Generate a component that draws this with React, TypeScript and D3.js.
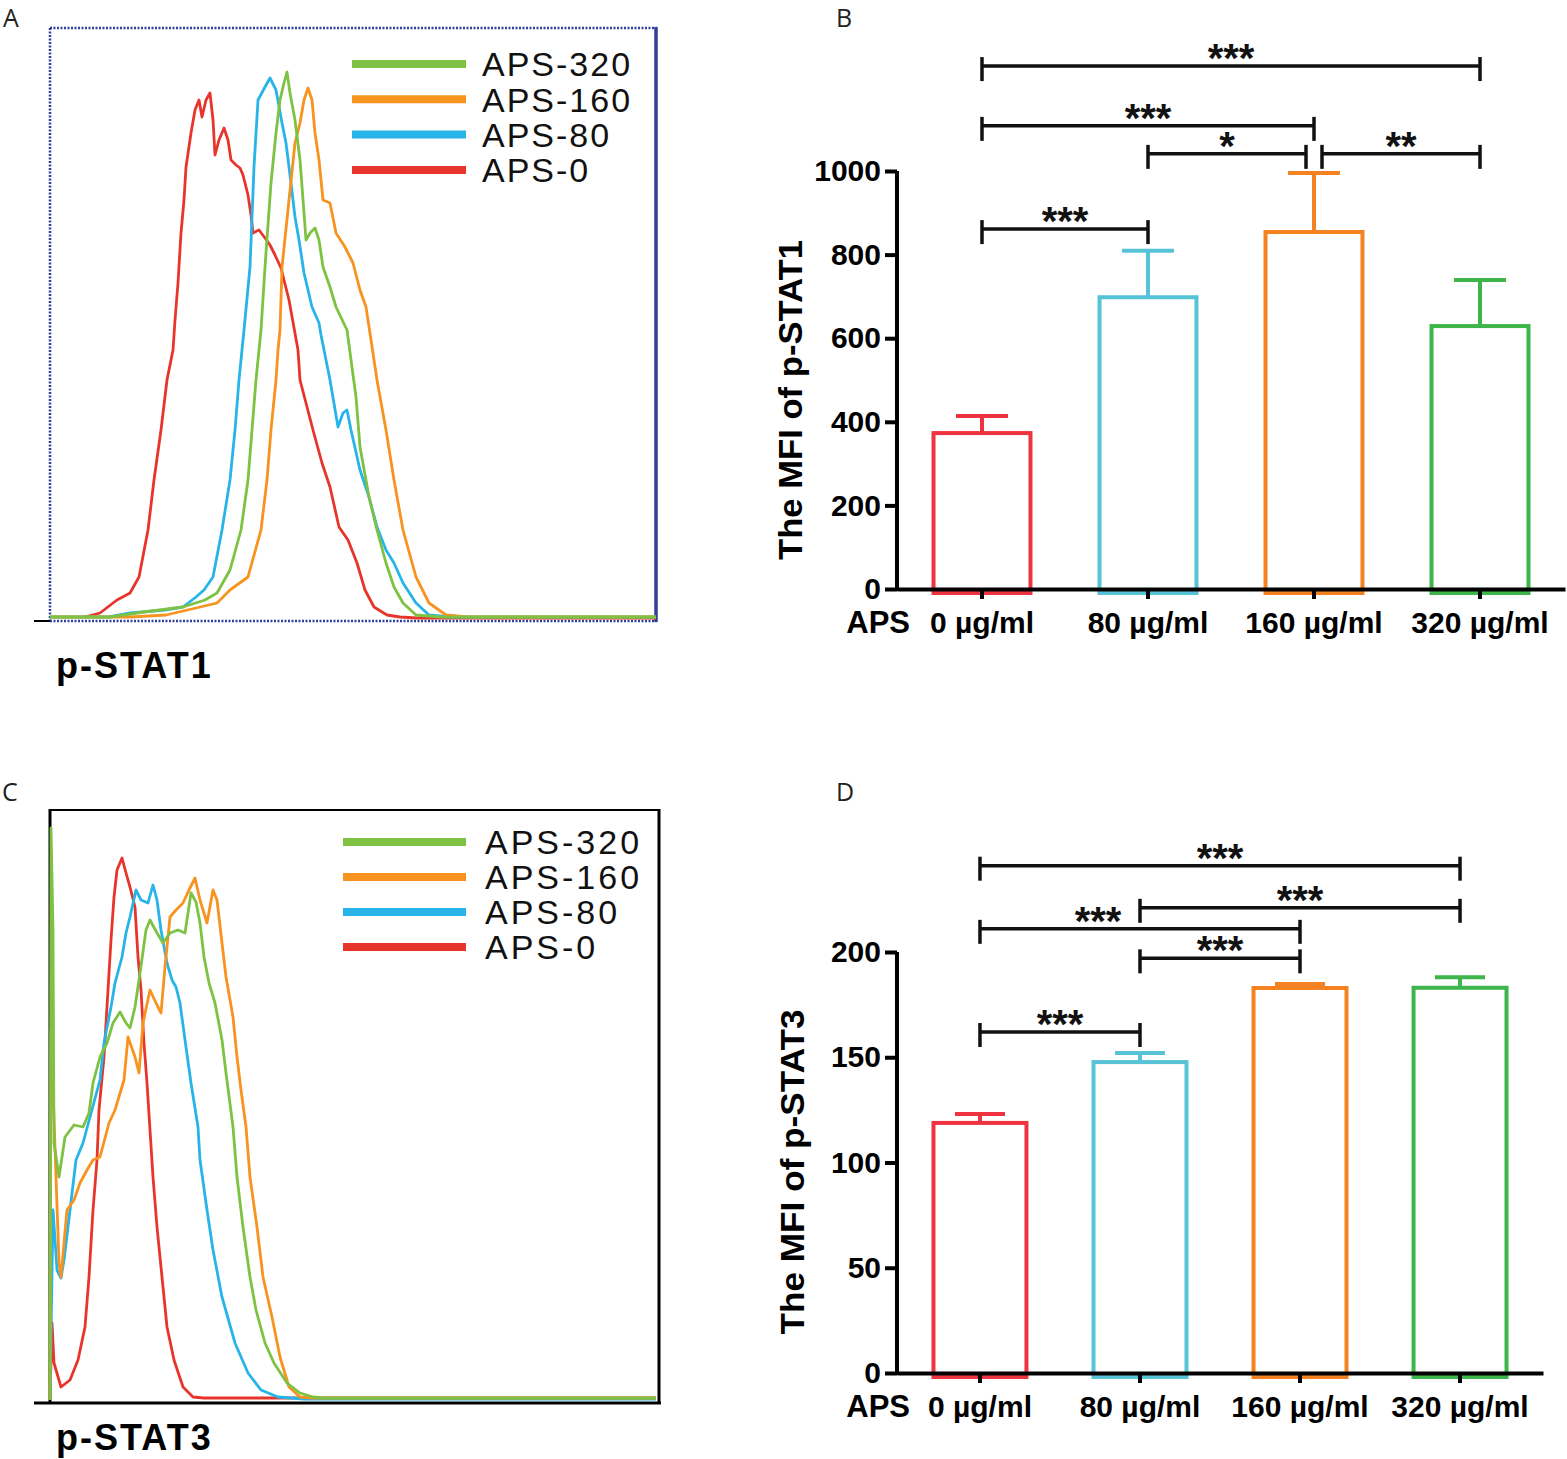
import { useEffect, useRef } from 'react';
import * as d3 from 'd3';

// ---- bar charts (B, D) ----
const groups = ['0 µg/ml', '80 µg/ml', '160 µg/ml', '320 µg/ml'];
const barColors = ['#ef3340', '#56c4d6', '#f58220', '#3db54a'];

const stat1Mean = [373, 698, 854, 629];
const stat1Sem = [41, 111, 141, 110];
const stat1Ticks = [0, 200, 400, 600, 800, 1000];
// [from group, to group, label, bracket height]
const stat1Sig: [number, number, string, number][] = [
  [0, 3, '***', 1251],
  [0, 2, '***', 1108],
  [1, 2, '*', 1041],
  [2, 3, '**', 1041],
  [0, 1, '***', 861],
];

const stat3Mean = [118.8, 147.7, 182.9, 183];
const stat3Sem = [4.2, 4.3, 1.9, 5];
const stat3Ticks = [0, 50, 100, 150, 200];
const stat3Sig: [number, number, string, number][] = [
  [0, 3, '***', 241],
  [1, 3, '***', 221],
  [0, 2, '***', 211],
  [1, 2, '***', 197],
  [0, 1, '***', 162],
];

// ---- flow histograms (A, C) ----
const legendLabels = ['APS-320', 'APS-160', 'APS-80', 'APS-0'];
const legendColors = ['#7dc242', '#f7931e', '#27b4e9', '#e8352b'];
// drawing order: APS-0, APS-80, APS-160, APS-320
const drawColors = ['#e8352b', '#27b4e9', '#f7931e', '#7dc242'];

// [channel, events]
const stat1Aps0 = [[35,3],[50,7],[67,20],[80,27],[89,43],[98,90],[104,140],[111,190],[117,240],[123,270],[125,300],[128,337],[131,387],[134,420],[136,453],[141,487],[145,510],[149,520],[152,503],[156,520],[160,527],[163,500],[165,465],[169,480],[174,492],[178,480],[181,460],[186,455],[190,452],[193,445],[198,425],[201,405],[203,387],[209,390],[215,382],[220,375],[225,365],[231,352],[239,320],[248,270],[250,240],[263,190],[272,157],[280,133],[289,93],[298,80],[307,57],[315,30],[324,13],[337,5],[350,3],[367,2],[606,2]];
const stat1Aps80 = [[0,3],[59,3],[80,7],[115,10],[133,13],[146,23],[154,30],[163,43],[172,90],[180,140],[185,190],[189,240],[194,290],[200,353],[204,453],[208,520],[215,533],[220,542],[226,530],[232,497],[236,477],[241,437],[245,403],[249,380],[254,347],[262,313],[269,297],[271,285],[280,240],[288,193],[293,207],[297,210],[301,190],[310,150],[319,123],[327,93],[336,70],[344,57],[353,37],[366,17],[379,5],[400,3],[606,3]];
const stat1Aps160 = [[0,3],[81,3],[116,5],[146,12],[167,17],[180,30],[198,43],[211,90],[217,140],[221,190],[226,240],[228,270],[230,290],[232,353],[239,420],[245,477],[250,497],[254,520],[258,532],[262,520],[265,487],[269,460],[273,420],[280,417],[286,387],[295,373],[303,357],[310,330],[316,313],[321,280],[327,240],[336,190],[344,140],[353,90],[366,43],[379,17],[396,5],[418,3],[606,3]];
const stat1Aps320 = [[0,3],[60,3],[94,8],[133,13],[155,20],[167,27],[180,50],[191,90],[198,140],[202,190],[206,240],[211,290],[215,353],[221,437],[226,487],[230,520],[234,537],[237,548],[240,527],[245,500],[250,460],[254,407],[256,380],[260,387],[265,392],[269,380],[273,353],[280,333],[286,313],[297,290],[306,223],[310,173],[319,123],[327,90],[336,57],[344,33],[353,17],[366,5],[390,3],[606,3]];

const stat3Aps0 = [[0,0],[2,77],[4,37],[11,13],[20,20],[28,40],[35,73],[39,123],[43,190],[47,240],[49,290],[54,343],[58,410],[61,460],[64,503],[67,530],[72,542],[76,527],[80,513],[85,493],[88,443],[91,410],[94,357],[97,317],[100,270],[103,223],[107,173],[112,123],[117,73],[124,40],[133,13],[143,3],[154,2],[606,2]];
const stat3Aps80 = [[0,0],[3,190],[7,130],[11,122],[14,140],[20,190],[26,240],[33,257],[40,283],[50,320],[54,357],[61,393],[65,417],[72,443],[76,467],[80,483],[86,510],[91,500],[98,497],[103,515],[107,500],[111,470],[117,437],[122,420],[126,413],[130,397],[135,360],[141,317],[148,273],[150,240],[157,190],[163,150],[172,103],[185,57],[198,27],[211,10],[228,3],[254,1],[606,1]];
const stat3Aps160 = [[0,0],[1,370],[6,223],[9,137],[11,123],[14,157],[17,190],[24,200],[30,217],[37,230],[43,240],[50,243],[59,277],[65,290],[74,320],[78,363],[85,343],[89,327],[93,377],[100,410],[106,397],[111,387],[115,433],[120,483],[126,490],[133,497],[139,510],[145,522],[150,500],[157,477],[163,510],[167,500],[172,457],[176,423],[183,383],[187,343],[191,310],[196,273],[200,223],[207,173],[213,123],[222,83],[230,43],[239,13],[250,3],[263,2],[606,2]];
const stat3Aps320 = [[0,0],[1,572],[3,470],[4,257],[9,223],[15,263],[24,275],[33,273],[39,287],[43,317],[50,343],[57,357],[63,377],[70,388],[76,377],[80,372],[85,393],[90,427],[96,470],[100,480],[107,467],[113,457],[120,467],[128,470],[135,467],[141,507],[146,498],[150,477],[154,443],[159,417],[165,397],[172,360],[176,327],[183,273],[187,223],[193,173],[200,123],[206,90],[215,57],[224,37],[237,17],[250,7],[263,3],[276,2],[606,2]];

const FONT = "'Liberation Sans', Arial, sans-serif";

function drawHist(svg: any, o: any) {
  const x = d3.scaleLinear().domain([0, o.xMax]).range([o.left, o.right]);
  const y = d3.scaleLinear().domain([0, o.yMax]).range([o.base, o.top]);
  const line = d3.line<number[]>().x(d => x(d[0])).y(d => y(d[1]));

  o.series.forEach((s: number[][], i: number) => {
    svg.append('path')
      .attr('d', line(s))
      .attr('fill', 'none')
      .attr('stroke', drawColors[i])
      .attr('stroke-width', 2.8)
      .attr('stroke-linejoin', 'round');
  });

  // legend
  legendLabels.forEach((lab, i) => {
    const ly = o.legY + i * o.legStep;
    svg.append('line')
      .attr('x1', o.legX1).attr('x2', o.legX2)
      .attr('y1', ly).attr('y2', ly)
      .attr('stroke', legendColors[i])
      .attr('stroke-width', 8);
    svg.append('text')
      .attr('x', o.legText).attr('y', ly)
      .attr('dy', '0.36em')
      .attr('font-family', FONT)
      .attr('font-size', o.legSize)
      .attr('letter-spacing', o.legSpacing)
      .attr('fill', '#111')
      .text(lab);
  });

  svg.append('text')
    .attr('x', 56).attr('y', o.labelY)
    .attr('font-family', FONT)
    .attr('font-weight', 'bold')
    .attr('font-size', 36)
    .attr('letter-spacing', 2)
    .attr('fill', '#000')
    .text(o.label);
}

function drawBars(svg: any, o: any) {
  const y = d3.scaleLinear().domain([0, o.max]).range([o.base, o.top]);
  const x = d3.scaleBand<string>()
    .domain(groups)
    .range([o.left, o.right])
    .paddingInner(o.padIn)
    .paddingOuter(o.padOut);
  const bw = x.bandwidth();
  const cx = (i: number) => (x(groups[i]) as number) + bw / 2;

  // bars
  o.mean.forEach((m: number, i: number) => {
    const c = barColors[i];
    svg.append('rect')
      .attr('x', x(groups[i]))
      .attr('y', y(m))
      .attr('width', bw)
      .attr('height', o.base - y(m) + 4)
      .attr('fill', 'white')
      .attr('stroke', c)
      .attr('stroke-width', 4);
    const yt = y(m + o.sem[i]);
    svg.append('line')
      .attr('x1', cx(i)).attr('x2', cx(i))
      .attr('y1', y(m)).attr('y2', yt)
      .attr('stroke', c).attr('stroke-width', 4);
    svg.append('line')
      .attr('x1', cx(i) - o.cap).attr('x2', cx(i) + o.cap)
      .attr('y1', yt).attr('y2', yt)
      .attr('stroke', c).attr('stroke-width', 4);
  });

  // axes
  const yAxis = svg.append('g')
    .attr('transform', `translate(${o.left},0)`)
    .call(d3.axisLeft(y).tickValues(o.ticks).tickFormat(d3.format('d')).tickSize(12).tickSizeOuter(0).tickPadding(4));
  const xAxis = svg.append('g')
    .attr('transform', `translate(0,${o.base})`)
    .call(d3.axisBottom(x).tickSize(10).tickSizeOuter(0).tickPadding(13));

  [yAxis, xAxis].forEach(ax => {
    ax.select('.domain').attr('stroke', '#000').attr('stroke-width', 4);
    ax.selectAll('.tick line').attr('stroke', '#000').attr('stroke-width', 4);
    ax.selectAll('.tick text')
      .attr('fill', '#000')
      .attr('font-family', FONT)
      .attr('font-weight', 'bold')
      .attr('font-size', 30);
  });
  yAxis.select('.domain').attr('d', `M0,${o.base + 2}V${o.top}`);

  svg.append('text')
    .attr('x', o.left + 13).attr('y', o.base + 44)
    .attr('text-anchor', 'end')
    .attr('font-family', FONT)
    .attr('font-weight', 'bold')
    .attr('font-size', 31)
    .attr('fill', '#000')
    .text('APS');

  // y title
  svg.append('text')
    .attr('transform', `translate(${o.titleX},${o.titleY}) rotate(-90)`)
    .attr('text-anchor', 'middle')
    .attr('dy', '0.35em')
    .attr('font-family', FONT)
    .attr('font-weight', 'bold')
    .attr('font-size', 34)
    .attr('textLength', o.titleLen)
    .attr('lengthAdjust', 'spacingAndGlyphs')
    .attr('fill', '#000')
    .text(o.title);

  // significance brackets
  const ends = (a: number, b: number, h: number) => {
    let xa = cx(a);
    let xb = cx(b);
    o.sig.forEach(([a2, b2, , h2]: [number, number, string, number]) => {
      if (h2 === h && b2 === a) xa += 8;
      if (h2 === h && a2 === b) xb -= 8;
    });
    return [xa, xb];
  };
  o.sig.forEach(([a, b, lab, h]: [number, number, string, number]) => {
    const yy = y(h);
    const [xa, xb] = ends(a, b, h);
    const g = svg.append('g').attr('stroke', '#111').attr('stroke-width', 3.5);
    g.append('line').attr('x1', xa).attr('x2', xb).attr('y1', yy).attr('y2', yy);
    g.append('line').attr('x1', xa).attr('x2', xa).attr('y1', yy - 9).attr('y2', yy + 15);
    g.append('line').attr('x1', xb).attr('x2', xb).attr('y1', yy - 9).attr('y2', yy + 15);

    // keep the label clear of a bracket that ends just above it
    let lx = (xa + xb) / 2;
    o.sig.forEach(([a2, b2, , h2]: [number, number, string, number]) => {
      if (h2 <= h) return;
      const gap = yy - y(h2);
      if (gap > 40) return;
      const [ea] = ends(a2, b2, h2);
      if (Math.abs(ea - lx) < 30) lx = ea - 42;
    });
    svg.append('text')
      .attr('x', lx).attr('y', yy + 6)
      .attr('text-anchor', 'middle')
      .attr('font-family', FONT)
      .attr('font-weight', 'bold')
      .attr('font-size', 40)
      .attr('fill', '#111')
      .text(lab);
  });
}

export default function App() {
  const svgRef = useRef<SVGSVGElement>(null);

  useEffect(() => {
    if (!svgRef.current) return;
    document.body.style.margin = '0';
    const svg = d3.select(svgRef.current);
    svg.selectAll('*').remove();

    // panel letters
    [['A', 3, 27], ['B', 836, 27], ['C', 2, 801], ['D', 836, 801]].forEach(([t, lx, ly]) => {
      svg.append('text')
        .attr('x', lx).attr('y', ly)
        .attr('font-family', "'Open Sans', sans-serif")
        .attr('font-size', 25)
        .attr('fill', '#222')
        .text(t as string);
    });

    // ---- A frame ----
    const blue = '#2e3f9e';
    const fa = svg.append('g').attr('fill', 'none');
    fa.append('line').attr('x1', 50).attr('x2', 657).attr('y1', 28).attr('y2', 28)
      .attr('stroke', blue).attr('stroke-width', 2.5).attr('stroke-dasharray', '2 1.5');
    fa.append('line').attr('x1', 50).attr('x2', 50).attr('y1', 28).attr('y2', 621)
      .attr('stroke', blue).attr('stroke-width', 2.5).attr('stroke-dasharray', '2 1.5');
    fa.append('line').attr('x1', 50).attr('x2', 657).attr('y1', 621).attr('y2', 621)
      .attr('stroke', blue).attr('stroke-width', 2.5).attr('stroke-dasharray', '2 1.5');
    fa.append('line').attr('x1', 656).attr('x2', 656).attr('y1', 27).attr('y2', 622)
      .attr('stroke', blue).attr('stroke-width', 3.5);
    fa.append('line').attr('x1', 34).attr('x2', 50).attr('y1', 621).attr('y2', 621)
      .attr('stroke', '#000').attr('stroke-width', 2);

    drawHist(svg, {
      series: [stat1Aps0, stat1Aps80, stat1Aps160, stat1Aps320],
      xMax: 606, yMax: 592, left: 50, right: 656, base: 620, top: 28,
      legY: 64, legStep: 35.3, legX1: 352, legX2: 466, legText: 482,
      legSize: 34, legSpacing: 2,
      label: 'p-STAT1', labelY: 678,
    });

    // ---- C frame ----
    const fc = svg.append('g').attr('stroke', '#000');
    fc.append('line').attr('x1', 50).attr('x2', 660).attr('y1', 810).attr('y2', 810).attr('stroke-width', 2);
    fc.append('line').attr('x1', 50).attr('x2', 50).attr('y1', 809).attr('y2', 1404).attr('stroke-width', 3);
    fc.append('line').attr('x1', 659).attr('x2', 659).attr('y1', 809).attr('y2', 1404).attr('stroke-width', 3);

    drawHist(svg, {
      series: [stat3Aps0, stat3Aps80, stat3Aps160, stat3Aps320],
      xMax: 610, yMax: 590, left: 50, right: 660, base: 1400, top: 810,
      legY: 842, legStep: 35, legX1: 343, legX2: 466, legText: 485,
      legSize: 34, legSpacing: 3,
      label: 'p-STAT3', labelY: 1450,
    });
    svg.append('line').attr('x1', 34).attr('x2', 661).attr('y1', 1403).attr('y2', 1403)
      .attr('stroke', '#000').attr('stroke-width', 3);

    // ---- B ----
    drawBars(svg, {
      mean: stat1Mean, sem: stat1Sem, ticks: stat1Ticks, sig: stat1Sig,
      max: 1000, base: 589, top: 171, left: 897, right: 1565,
      padIn: 0.416, padOut: 0.22, cap: 26,
      title: 'The MFI of p-STAT1', titleX: 790, titleY: 400, titleLen: 320,
    });

    // ---- D ----
    drawBars(svg, {
      mean: stat3Mean, sem: stat3Sem, ticks: stat3Ticks, sig: stat3Sig,
      max: 200, base: 1373, top: 952, left: 897, right: 1543,
      padIn: 0.419, padOut: 0.228, cap: 25,
      title: 'The MFI of p-STAT3', titleX: 792, titleY: 1172, titleLen: 325,
    });
  }, []);

  return <svg ref={svgRef} width={1567} height={1459} style={{ display: 'block', background: '#fff' }} />;
}
